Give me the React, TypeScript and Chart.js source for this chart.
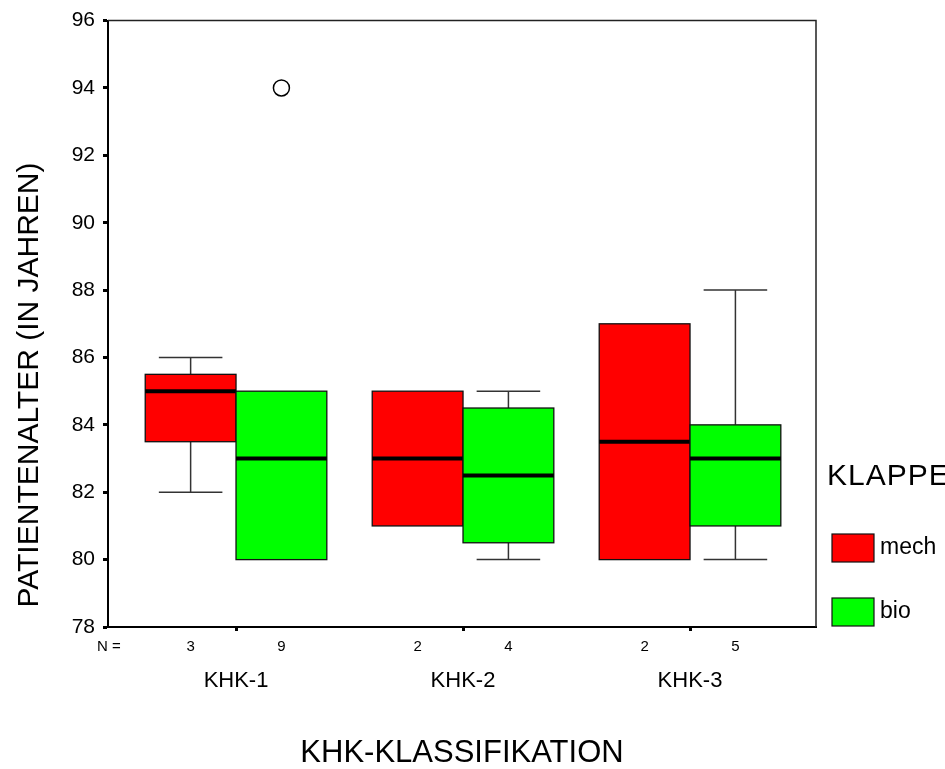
import React, { useEffect, useRef } from "react";
import { Chart, registerables } from "chart.js";

Chart.register(...registerables);

const categories = ["KHK-1", "KHK-2", "KHK-3"];
const seriesNames = ["mech", "bio"];
const seriesColors = ["#ff0000", "#00ff00"];

// mech
const mechMin = [82, 81, 80];
const mechQ1 = [83.5, 81, 80];
const mechMedian = [85, 83, 83.5];
const mechQ3 = [85.5, 85, 87];
const mechMax = [86, 85, 87];
const mechN = [3, 2, 2];

// bio
const bioMin = [80, 80, 80];
const bioQ1 = [80, 80.5, 81];
const bioMedian = [83, 82.5, 83];
const bioQ3 = [85, 84.5, 84];
const bioMax = [85, 85, 88];
const bioN = [9, 4, 5];

// outliers: [categoryIndex, seriesIndex, value]
const outlierCategory = [0];
const outlierSeries = [1];
const outlierValue = [94];

const yTicks = [78, 80, 82, 84, 86, 88, 90, 92, 94, 96];

const FONT = "'Liberation Sans', Arial, Helvetica, sans-serif";
const SERIES_OFFSET = [-0.2, 0.2];
const BOX_HALF = 0.2;
const CAP_HALF = 0.14;

const boxPlugin = {
  id: "boxPlugin",
  beforeDatasetsDraw(chart: any) {
    const ctx = chart.ctx;
    const xs = chart.scales.x;
    const ys = chart.scales.y;
    const area = chart.chartArea;
    const stats = [
      [mechMin, mechQ1, mechMedian, mechQ3, mechMax],
      [bioMin, bioQ1, bioMedian, bioQ3, bioMax],
    ];
    ctx.save();
    // frame top/right
    ctx.strokeStyle = "#222";
    ctx.lineWidth = 1.5;
    ctx.beginPath();
    ctx.moveTo(area.left, area.top);
    ctx.lineTo(area.right, area.top);
    ctx.lineTo(area.right, area.bottom);
    ctx.stroke();

    categories.forEach((_, ci) => {
      stats.forEach((st, si) => {
        const [mn, q1, med, q3, mx] = st.map((a) => a[ci]);
        const c = ci + 1 + SERIES_OFFSET[si];
        const xl = xs.getPixelForValue(c - BOX_HALF);
        const xr = xs.getPixelForValue(c + BOX_HALF);
        const xc = xs.getPixelForValue(c);
        const cl = xs.getPixelForValue(c - CAP_HALF);
        const cr = xs.getPixelForValue(c + CAP_HALF);
        // whiskers
        ctx.strokeStyle = "#333";
        ctx.lineWidth = 1.5;
        ctx.beginPath();
        if (mx > q3) {
          ctx.moveTo(xc, ys.getPixelForValue(q3));
          ctx.lineTo(xc, ys.getPixelForValue(mx));
          ctx.moveTo(cl, ys.getPixelForValue(mx));
          ctx.lineTo(cr, ys.getPixelForValue(mx));
        }
        if (mn < q1) {
          ctx.moveTo(xc, ys.getPixelForValue(q1));
          ctx.lineTo(xc, ys.getPixelForValue(mn));
          ctx.moveTo(cl, ys.getPixelForValue(mn));
          ctx.lineTo(cr, ys.getPixelForValue(mn));
        }
        ctx.stroke();
        // box
        const yt = ys.getPixelForValue(q3);
        const yb = ys.getPixelForValue(q1);
        ctx.fillStyle = seriesColors[si];
        ctx.fillRect(xl, yt, xr - xl, yb - yt);
        ctx.strokeStyle = "#111";
        ctx.lineWidth = 1.3;
        ctx.strokeRect(xl, yt, xr - xl, yb - yt);
        // median
        const ym = ys.getPixelForValue(med);
        ctx.strokeStyle = "#000";
        ctx.lineWidth = 4;
        ctx.beginPath();
        ctx.moveTo(xl, ym);
        ctx.lineTo(xr, ym);
        ctx.stroke();
      });
    });
    ctx.restore();
  },
  afterDraw(chart: any) {
    const ctx = chart.ctx;
    const xs = chart.scales.x;
    const area = chart.chartArea;
    ctx.save();
    ctx.fillStyle = "#000";
    // N labels
    ctx.font = `15px ${FONT}`;
    ctx.textAlign = "center";
    ctx.textBaseline = "middle";
    const nY = area.bottom + 20;
    ctx.fillText("N =", area.left + 1, nY);
    const ns = [mechN, bioN];
    categories.forEach((_, ci) => {
      ns.forEach((arr, si) => {
        const c = ci + 1 + SERIES_OFFSET[si];
        ctx.fillText(String(arr[ci]), xs.getPixelForValue(c), nY);
      });
    });
    // Y title
    ctx.save();
    ctx.font = `30px ${FONT}`;
    ctx.translate(30, 385);
    ctx.rotate(-Math.PI / 2);
    ctx.textAlign = "center";
    ctx.textBaseline = "middle";
    ctx.fillText("PATIENTENALTER (IN JAHREN)", 0, 0);
    ctx.restore();
    // legend
    const lx = area.right + 11;
    ctx.textAlign = "left";
    ctx.font = `30px ${FONT}`;
    try {
      (ctx as any).letterSpacing = "1px";
    } catch (e) {}
    ctx.fillText("KLAPPE", lx, 477);
    try {
      (ctx as any).letterSpacing = "0px";
    } catch (e) {}
    const legY = [548, 612];
    seriesNames.forEach((name, si) => {
      const sy = legY[si];
      ctx.fillStyle = seriesColors[si];
      ctx.fillRect(area.right + 16, sy - 14, 42, 28);
      ctx.strokeStyle = "#111";
      ctx.lineWidth = 1.2;
      ctx.strokeRect(area.right + 16, sy - 14, 42, 28);
      ctx.fillStyle = "#000";
      ctx.font = `23px ${FONT}`;
      ctx.fillText(name, area.right + 64, sy);
    });
    ctx.restore();
  },
};

export default function App() {
  const ref = useRef<HTMLCanvasElement | null>(null);
  useEffect(() => {
    if (!ref.current) return;
    const outlierData = outlierValue.map((v, i) => ({
      x: outlierCategory[i] + 1 + SERIES_OFFSET[outlierSeries[i]],
      y: v,
    }));
    const chart = new Chart(ref.current, {
      type: "scatter",
      data: {
        datasets: [
          {
            label: "outliers",
            data: outlierData,
            pointRadius: 8,
            pointBorderWidth: 1.5,
            pointBackgroundColor: "#fff",
            pointBorderColor: "#000",
          },
        ],
      },
      plugins: [boxPlugin],
      options: {
        responsive: false,
        animation: false,
        maintainAspectRatio: false,
        layout: { padding: { left: 0, top: 19, right: 129, bottom: 0 } },
        plugins: { legend: { display: false }, tooltip: { enabled: false } },
        scales: {
          x: {
            type: "linear",
            min: 0.436,
            max: 3.555,
            afterBuildTicks: (scale: any) => {
              scale.ticks = categories.map((_, i) => ({ value: i + 1 }));
            },
            afterFit: (scale: any) => {
              scale.height = 142;
            },
            ticks: {
              autoSkip: false,
              maxRotation: 0,
              color: "#000",
              font: { family: FONT, size: 22 },
              padding: 37,
              callback: (v: any) => categories[Math.round(v) - 1] ?? "",
            },
            grid: {
              drawOnChartArea: false,
              drawTicks: true,
              tickLength: 4,
              tickWidth: 3,
              tickColor: "#000",
            },
            border: { display: true, color: "#000", width: 2 },
            title: {
              display: true,
              text: "KHK-KLASSIFIKATION",
              color: "#000",
              font: { family: FONT, size: 31, lineHeight: 1 },
              padding: { top: 0, bottom: 0 },
            },
          },
          y: {
            type: "linear",
            min: 78,
            max: 96,
            afterBuildTicks: (scale: any) => {
              scale.ticks = yTicks.map((v) => ({ value: v }));
            },
            afterFit: (scale: any) => {
              scale.width = 108;
            },
            ticks: {
              color: "#000",
              font: { family: FONT, size: 21 },
              padding: 8,
            },
            grid: {
              drawOnChartArea: false,
              drawTicks: true,
              tickLength: 5,
              tickWidth: 3,
              tickColor: "#000",
            },
            border: { display: true, color: "#000", width: 2 },
          },
        },
      },
    });
    return () => chart.destroy();
  }, []);
  return (
    <div style={{ position: "absolute", left: 0, top: 0, width: 945, height: 769, background: "#fff" }}>
      <canvas ref={ref} width={945} height={769} style={{ display: "block" }} />
    </div>
  );
}
